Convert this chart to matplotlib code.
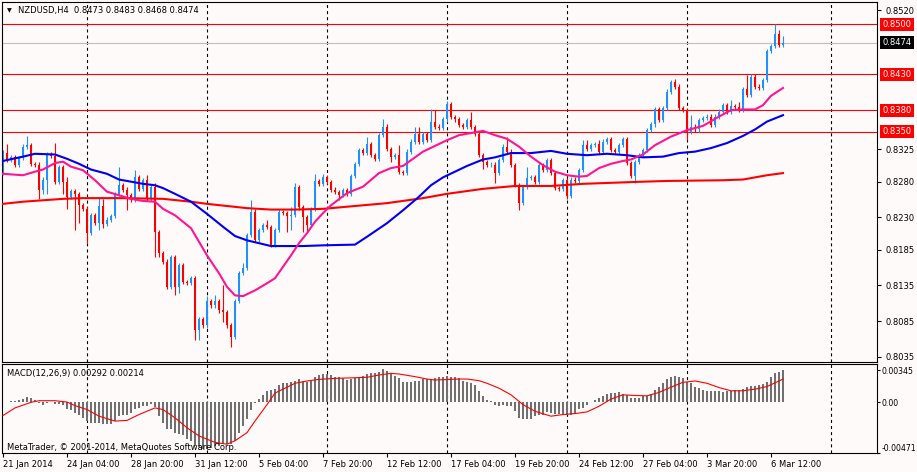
import matplotlib
matplotlib.use('Agg')
import matplotlib.pyplot as plt
from matplotlib.transforms import blended_transform_factory

plt.rcParams['font.family'] = ['DejaVu Sans']
plt.rcParams['lines.scale_dashes'] = False

# ---------------- data ----------------
symbol_title = "NZDUSD,H4  0.8473 0.8483 0.8468 0.8474"
macd_title = "MACD(12,26,9) 0.00292 0.00214"
copyright_text = "MetaTrader, \u00a9 2001-2014, MetaQuotes Software Corp."

first_open = 0.8292
closes = [
    0.8320, 0.8311, 0.8314, 0.8304, 0.8313, 0.8328, 0.8331, 0.8305, 0.8304, 0.8268,
    0.8283, 0.8318, 0.8316, 0.8280, 0.8301, 0.8280, 0.8259, 0.8267, 0.8263, 0.8247,
    0.8242, 0.8208, 0.8233, 0.8222, 0.8246, 0.8221, 0.8227, 0.8232, 0.8263, 0.8275,
    0.8269, 0.8261, 0.8254, 0.8287, 0.8270, 0.8282, 0.8256, 0.8273, 0.8210, 0.8180,
    0.8168, 0.8133, 0.8175, 0.8133, 0.8163, 0.8140, 0.8138, 0.8145, 0.8073, 0.8088,
    0.8079, 0.8113, 0.8107, 0.8113, 0.8100, 0.8098, 0.8079, 0.8063, 0.8113, 0.8152,
    0.8159, 0.8205, 0.8238, 0.8199, 0.8212, 0.8219, 0.8217, 0.8191, 0.8212, 0.8238,
    0.8236, 0.8232, 0.8234, 0.8273, 0.8244, 0.8230, 0.8219, 0.8242, 0.8281, 0.8277,
    0.8286, 0.8280, 0.8269, 0.8266, 0.8261, 0.8268, 0.8263, 0.8288, 0.8305, 0.8324,
    0.8320, 0.8333, 0.8317, 0.8312, 0.8345, 0.8357, 0.8326, 0.8315, 0.8317, 0.8294,
    0.8292, 0.8322, 0.8336, 0.8347, 0.8336, 0.8347, 0.8338, 0.8364, 0.8357, 0.8355,
    0.8367, 0.8388, 0.8370, 0.8367, 0.8359, 0.8356, 0.8366, 0.8356, 0.8347, 0.8317,
    0.8308, 0.8303, 0.8304, 0.8292, 0.8310, 0.8329, 0.8322, 0.8303, 0.8275, 0.8250,
    0.8273, 0.8285, 0.8287, 0.8280, 0.8303, 0.8296, 0.8310, 0.8292, 0.8271, 0.8270,
    0.8282, 0.8260, 0.8283, 0.8281, 0.8296, 0.8331, 0.8326, 0.8331, 0.8333, 0.8322,
    0.8336, 0.8340, 0.8324, 0.8322, 0.8331, 0.8339, 0.8306, 0.8288, 0.8308, 0.8317,
    0.8324, 0.8352, 0.8360, 0.8381, 0.8366, 0.8383, 0.8406, 0.8420, 0.8413, 0.8383,
    0.8380, 0.8350, 0.8357, 0.8353, 0.8366, 0.8369, 0.8371, 0.8359, 0.8371, 0.8378,
    0.8387, 0.8378, 0.8386, 0.8384, 0.8381, 0.8409, 0.8401, 0.8427, 0.8413, 0.8411,
    0.8422, 0.8463, 0.8470, 0.8487, 0.8471, 0.8474,
]
# wick lengths above / below the body, in pips
upper_wick_pips = [
    4, 12, 3, 3, 3, 4, 13, 3, 3, 4,
    3, 3, 3, 18, 3, 3, 7, 3, 3, 3,
    3, 3, 3, 3, 13, 10, 3, 3, 3, 25,
    3, 3, 3, 9, 3, 3, 7, 3, 5, 3,
    3, 4, 3, 3, 3, 3, 3, 3, 3, 3,
    3, 7, 3, 8, 3, 35, 3, 3, 3, 3,
    7, 3, 16, 4, 3, 3, 7, 3, 3, 4,
    3, 3, 11, 5, 3, 3, 3, 3, 10, 3,
    5, 3, 3, 3, 3, 3, 3, 3, 3, 3,
    3, 10, 3, 3, 3, 11, 4, 3, 3, 14,
    3, 3, 3, 10, 10, 3, 3, 18, 16, 3,
    3, 5, 3, 3, 3, 3, 3, 12, 3, 3,
    3, 3, 3, 3, 3, 3, 14, 3, 3, 3,
    3, 16, 3, 3, 3, 3, 3, 3, 3, 3,
    3, 3, 3, 3, 3, 7, 7, 3, 3, 5,
    4, 3, 3, 3, 3, 4, 3, 3, 3, 3,
    3, 3, 3, 4, 3, 3, 3, 2, 4, 3,
    3, 3, 16, 3, 3, 3, 3, 3, 3, 3,
    3, 3, 8, 3, 8, 3, 20, 3, 3, 3,
    3, 3, 3, 13, 5, 9,
]
lower_wick_pips = [
    3, 3, 3, 3, 3, 3, 3, 3, 3, 12,
    5, 20, 3, 3, 3, 17, 17, 3, 50, 25,
    3, 14, 2, 3, 10, 6, 3, 3, 3, 3,
    3, 20, 3, 3, 3, 3, 3, 3, 36, 6,
    3, 3, 3, 12, 9, 3, 3, 3, 14, 15,
    3, 3, 3, 3, 3, 14, 3, 14, 3, 3,
    3, 3, 3, 3, 3, 3, 3, 3, 3, 3,
    3, 22, 20, 3, 3, 20, 9, 3, 3, 3,
    3, 3, 3, 3, 7, 3, 3, 3, 3, 3,
    3, 3, 3, 3, 3, 3, 3, 7, 3, 3,
    3, 3, 3, 3, 3, 3, 3, 3, 3, 3,
    3, 3, 3, 3, 3, 3, 3, 3, 3, 3,
    10, 3, 3, 14, 3, 3, 3, 3, 3, 10,
    3, 3, 3, 3, 3, 3, 3, 3, 3, 3,
    3, 4, 3, 3, 3, 3, 3, 3, 3, 3,
    3, 3, 3, 3, 3, 3, 3, 3, 10, 3,
    3, 3, 3, 3, 3, 3, 3, 3, 3, 3,
    3, 12, 3, 3, 3, 3, 3, 3, 3, 3,
    3, 3, 3, 3, 3, 3, 3, 3, 3, 3,
    3, 3, 3, 3, 3, 3,
]

# moving averages (read at sample bars)
ma_fast_bars = [0, 5, 8, 10, 13, 15, 17, 20, 23, 26, 29, 32, 35, 38, 40, 43, 47, 49, 51, 54,
                56, 58, 60, 63, 66, 68, 70, 72, 74, 76, 78, 80, 82, 86, 90, 94, 97, 100, 102, 105,
                108, 111, 114, 117, 120, 123, 126, 129, 132, 135, 138, 141, 144, 146, 149, 152, 155, 157, 160, 163,
                167, 171, 175, 179, 182, 185, 188, 190, 192, 195]
ma_fast_vals = [0.8291, 0.8289, 0.8294, 0.8297, 0.8306, 0.8308, 0.8301, 0.8296, 0.8282, 0.8266,
                0.8261, 0.8256, 0.8253, 0.8252, 0.8242, 0.8233, 0.8215, 0.8196, 0.8177, 0.8152,
                0.8133, 0.8121, 0.8120, 0.8128, 0.8138, 0.8145, 0.8161, 0.8177, 0.8194, 0.8208,
                0.8224, 0.8236, 0.8247, 0.8264, 0.8273, 0.8292, 0.8299, 0.8302, 0.8310, 0.8322,
                0.8330, 0.8338, 0.8345, 0.8348, 0.8351, 0.8345, 0.8340, 0.8329, 0.8315, 0.8303,
                0.8294, 0.8289, 0.8287, 0.8288, 0.8299, 0.8305, 0.8309, 0.8311, 0.8318, 0.8331,
                0.8343, 0.8352, 0.8358, 0.8371, 0.8380, 0.8381, 0.8381, 0.8387, 0.8400, 0.8411]
ma_mid_bars = [0, 5, 8, 13, 16, 19, 22, 26, 29, 32, 35, 38, 40, 43, 47, 51, 55, 58, 61, 64,
               67, 71, 75, 80, 88, 91, 96, 100, 104, 107, 110, 113, 116, 120, 123, 127, 132, 137, 141, 146,
               151, 156, 160, 165, 169, 173, 177, 181, 185, 188, 191, 195]
ma_mid_vals = [0.8309, 0.8315, 0.8319, 0.8318, 0.8312, 0.8305, 0.8297, 0.8291, 0.8283, 0.8280,
               0.8277, 0.8275, 0.8271, 0.8263, 0.8252, 0.8235, 0.8217, 0.8204, 0.8198, 0.8194,
               0.8190, 0.8190, 0.8190, 0.8191, 0.8192, 0.8203, 0.8222, 0.8240, 0.8259, 0.8275,
               0.8286, 0.8294, 0.8302, 0.8311, 0.8314, 0.8320, 0.8320, 0.8323, 0.8319, 0.8317,
               0.8319, 0.8317, 0.8314, 0.8315, 0.8320, 0.8322, 0.8327, 0.8334, 0.8344, 0.8353,
               0.8364, 0.8373]
ma_slow_bars = [0, 5, 10, 15, 20, 30, 40, 47, 51, 56, 61, 67, 73, 80, 86, 96, 105, 111, 120, 128,
                137, 145, 155, 160, 166, 180, 185, 191, 195]
ma_slow_vals = [0.8249, 0.8252, 0.8254, 0.8256, 0.8257, 0.8257, 0.8256, 0.8252, 0.8249, 0.8246,
                0.8243, 0.8241, 0.8241, 0.8242, 0.8245, 0.8250, 0.8257, 0.8263, 0.8270, 0.8274,
                0.8274, 0.8277, 0.8279, 0.8280, 0.8281, 0.8282, 0.8283, 0.8289, 0.8292]

level_lines = [0.8500, 0.8430, 0.8380, 0.8350]
bid_price = 0.8474
price_ticks = [0.8520, 0.8325, 0.8280, 0.8230, 0.8185, 0.8135, 0.8085, 0.8035]

macd_hist = [
    0.00003, 0.00003, 0.00006, 0.00009, 0.00015,
    0.00027, 0.00045, 0.00036, 0.00021, -0.00009,
    -0.00024, -0.00009, -0.00003, -0.00015, -0.00015,
    -0.00024, -0.00063, -0.00075, -0.00100, -0.00115,
    -0.00145, -0.00175, -0.00190, -0.00196, -0.00196,
    -0.00205, -0.00205, -0.00205, -0.00175, -0.00130,
    -0.00115, -0.00115, -0.00100, -0.00063, -0.00054,
    -0.00033, -0.00033, -0.00018, -0.00045, -0.00130,
    -0.00190, -0.00245, -0.00251, -0.00281, -0.00296,
    -0.00305, -0.00335, -0.00356, -0.00402, -0.00417,
    -0.00432, -0.00432, -0.00426, -0.00402, -0.00402,
    -0.00387, -0.00387, -0.00387, -0.00356, -0.00281,
    -0.00220, -0.00160, -0.00069, -0.00009, 0.00027,
    0.00066, 0.00097, 0.00106, 0.00118, 0.00157,
    0.00172, 0.00178, 0.00184, 0.00196, 0.00208,
    0.00196, 0.00187, 0.00196, 0.00227, 0.00248,
    0.00257, 0.00257, 0.00248, 0.00233, 0.00227,
    0.00217, 0.00202, 0.00208, 0.00217, 0.00227,
    0.00239, 0.00257, 0.00263, 0.00269, 0.00278,
    0.00299, 0.00287, 0.00263, 0.00239, 0.00217,
    0.00187, 0.00184, 0.00187, 0.00193, 0.00196,
    0.00208, 0.00208, 0.00211, 0.00217, 0.00227,
    0.00233, 0.00239, 0.00233, 0.00227, 0.00217,
    0.00196, 0.00187, 0.00172, 0.00157, 0.00097,
    0.00051, 0.00021, 0.00006, -0.00024, -0.00039,
    -0.00024, -0.00033, -0.00039, -0.00085, -0.00145,
    -0.00160, -0.00160, -0.00154, -0.00130, -0.00121,
    -0.00115, -0.00094, -0.00100, -0.00106, -0.00106,
    -0.00106, -0.00115, -0.00115, -0.00100, -0.00063,
    -0.00054, -0.00024, 0.00003, 0.00021, 0.00036,
    0.00051, 0.00076, 0.00082, 0.00082, 0.00088,
    0.00076, 0.00066, 0.00036, 0.00036, 0.00036,
    0.00051, 0.00051, 0.00072, 0.00112, 0.00142,
    0.00178, 0.00208, 0.00233, 0.00239, 0.00233,
    0.00217, 0.00187, 0.00172, 0.00142, 0.00127,
    0.00112, 0.00103, 0.00097, 0.00097, 0.00097,
    0.00091, 0.00097, 0.00103, 0.00106, 0.00112,
    0.00118, 0.00136, 0.00148, 0.00151, 0.00160,
    0.00163, 0.00184, 0.00233, 0.00263, 0.00275, 0.00292,
]
signal_bars = [0, 3, 7, 9, 13, 16, 18, 21, 24, 28, 31, 34, 38, 40, 43, 46, 49, 53, 56, 58,
               61, 63, 66, 68, 71, 73, 76, 79, 83, 88, 91, 94, 97, 99, 103, 106, 108, 112, 114, 116,
               119, 121, 124, 127, 130, 133, 137, 140, 143, 146, 149, 152, 155, 158, 161, 164, 167, 170, 173, 176,
               179, 182, 185, 188, 191, 195]
signal_vals = [-0.00124, -0.00054, -0.00003, 0.00012, 0.00012, 0.00000, -0.00033, -0.00069, -0.00130, -0.00175,
               -0.00169, -0.00115, -0.00054, -0.00069, -0.00145, -0.00236, -0.00311, -0.00371, -0.00387, -0.00356,
               -0.00281, -0.00175, -0.00024, 0.00082, 0.00136, 0.00172, 0.00193, 0.00208, 0.00217, 0.00223,
               0.00227, 0.00248, 0.00263, 0.00257, 0.00233, 0.00211, 0.00202, 0.00208, 0.00211, 0.00211,
               0.00196, 0.00172, 0.00127, 0.00066, -0.00024, -0.00085, -0.00130, -0.00115, -0.00106, -0.00091,
               -0.00039, 0.00027, 0.00066, 0.00060, 0.00057, 0.00088, 0.00136, 0.00181, 0.00193, 0.00172,
               0.00133, 0.00103, 0.00103, 0.00118, 0.00142, 0.00210]
macd_ticks = [0.00290, 0.0, -0.00468]
macd_tick_labels = ['0.00345', '0.00', '-0.00471']

date_tick_bars = [0, 16, 32, 48, 64, 80, 96, 112, 128, 144, 160, 176, 192]
date_labels = ["21 Jan 2014", "24 Jan 04:00", "28 Jan 20:00", "31 Jan 12:00", "5 Feb 04:00",
               "7 Feb 20:00", "12 Feb 12:00", "17 Feb 04:00", "19 Feb 20:00", "24 Feb 12:00",
               "27 Feb 04:00", "3 Mar 20:00", "6 Mar 12:00"]
grid_bars = [21, 51, 81, 111, 141, 171, 207]

# ---------------- style ----------------
BG = '#FFFAFA'
BULL = '#1E90FF'
BEAR = '#FF0000'
FS = 6.0
W, H = 917, 472

fig = plt.figure(figsize=(W / 100, H / 100), dpi=100, facecolor=BG)


def rect(x0, y0, x1, y1):
    return [x0 / W, 1 - y1 / H, (x1 - x0) / W, (y1 - y0) / H]


ax = fig.add_axes(rect(2, 2, 877, 362), facecolor=BG)
ax2 = fig.add_axes(rect(2, 364, 877, 453), facecolor=BG)

n = len(closes)
xs = list(range(n))
opens = [first_open] + closes[:-1]
highs = [max(o, c) + u * 0.0001 for o, c, u in zip(opens, closes, upper_wick_pips)]
lows = [min(o, c) - d * 0.0001 for o, c, d in zip(opens, closes, lower_wick_pips)]
cols = [BULL if c >= o else BEAR for o, c in zip(opens, closes)]

for a in (ax, ax2):
    for g in grid_bars:
        a.axvline(g, color='black', lw=0.8, dashes=(2.2, 2.2), zorder=1)
    for s in a.spines.values():
        s.set_color('black')
        s.set_linewidth(0.8)
    a.set_xlim(-0.25, 218.5)

# horizontal levels
for lv in level_lines:
    ax.axhline(lv, color='#FF0000', lw=0.8, zorder=1.5)
ax.axhline(bid_price, color='#C0C0C0', lw=0.8, zorder=1.5)

# candles
ax.vlines(xs, lows, highs, colors=cols, lw=0.8, zorder=2)
bodies = [max(abs(c - o), 0.00002) for o, c in zip(opens, closes)]
bottoms = [min(o, c) for o, c in zip(opens, closes)]
ax.bar(xs, bodies, bottom=bottoms, width=0.7, color=cols, linewidth=0, zorder=2.1)

# moving averages
ax.plot(ma_slow_bars, ma_slow_vals, color='#FF0000', lw=1.5, zorder=3)
ax.plot(ma_mid_bars, ma_mid_vals, color='#0000F0', lw=1.5, zorder=3)
ax.plot(ma_fast_bars, ma_fast_vals, color='#FF1493', lw=1.5, zorder=3)

ax.set_ylim(0.80279, 0.85312)
ax.set_xticks([])
ax.yaxis.tick_right()
ax.set_yticks(price_ticks)
ax.set_yticklabels(['%.4f' % v for v in price_ticks])
ax.tick_params(axis='y', length=3, width=0.8, pad=3, labelsize=FS, colors='black')

trans = blended_transform_factory(ax.transAxes, ax.transData)
for lv in level_lines:
    ax.text(1 + 5.5 / 875, lv, '%.4f' % lv, transform=trans, ha='left', va='center',
            fontsize=FS, color='white', clip_on=False, zorder=5,
            bbox=dict(boxstyle='square,pad=0.25', fc='#FF0000', ec='none'))
ax.text(1 + 5.5 / 875, bid_price, '%.4f' % bid_price, transform=trans, ha='left', va='center',
        fontsize=FS, color='white', clip_on=False, zorder=5,
        bbox=dict(boxstyle='square,pad=0.25', fc='black', ec='none'))

# MACD panel
ax2.bar(xs, macd_hist, width=0.55, color='#707070', linewidth=0, zorder=2)
ax2.plot(signal_bars, signal_vals, color='#FF0000', lw=0.8, zorder=3)
ax2.set_ylim(-0.00468, 0.00349)
ax2.yaxis.tick_right()
ax2.set_yticks(macd_ticks)
ax2.set_yticklabels(macd_tick_labels)
ax2.tick_params(axis='y', length=2.5, width=0.8, pad=0.8, labelsize=5.6, colors='black')
ax2.get_yticklabels()[2].set_verticalalignment('bottom')

ax2.set_xticks(date_tick_bars)
ax2.set_xticklabels(date_labels, ha='left')
ax2.tick_params(axis='x', length=3, width=0.8, pad=2, labelsize=FS, colors='black')

# texts
fig.text(7 / W, 1 - 10.5 / H, '\u25bc', fontsize=4.5, va='center', ha='left', color='black')
fig.text(18 / W, 1 - 10.5 / H, symbol_title, fontsize=FS, va='center', ha='left', color='black')
fig.text(7 / W, 1 - 373.5 / H, macd_title, fontsize=FS, va='center', ha='left', color='black', zorder=10)
fig.text(7 / W, 1 - 447 / H, copyright_text, fontsize=FS, va='center', ha='left', color='black', zorder=10)

fig.savefig('out.png', dpi=100, facecolor=BG)
